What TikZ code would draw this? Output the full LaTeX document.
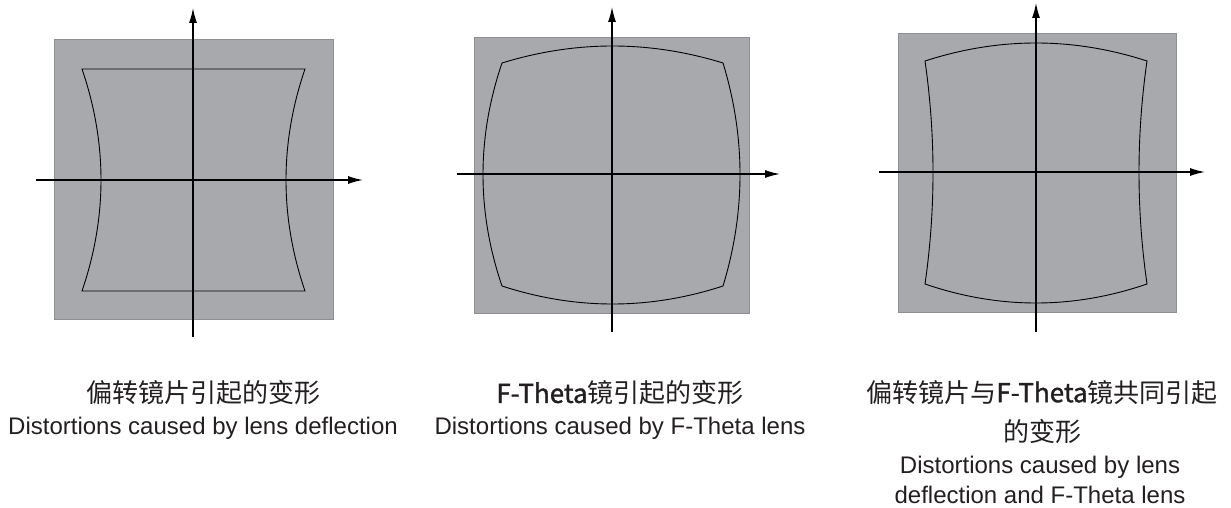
\documentclass[tikz,border=0pt]{standalone}
\usepackage{fontspec}
\setmainfont{Liberation Sans}
\newfontfamily\cjk{Noto Sans CJK SC}
\newfontfamily\cjkmed[FakeBold=1.3]{Noto Sans CJK SC}
\usetikzlibrary{arrows.meta}
\definecolor{panelfill}{HTML}{A8A9AD}
\definecolor{panelline}{HTML}{8E8F92}
\definecolor{txt}{HTML}{231F20}
\tikzset{
  panel/.style={fill=panelfill, draw=panelline, line width=0.9pt},
  axis/.style={draw=black, line width=1.3pt, -{Latex[length=15pt,width=8pt]}},
  shapeline/.style={draw=black, line width=0.9pt, line join=miter},
  cn/.style={inner sep=0pt, text=txt, font=\cjk\fontsize{26}{39}\selectfont, align=center},
  en/.style={inner sep=0pt, text=txt, font=\fontsize{24}{30}\selectfont, align=center},
}
\newcommand{\fth}{{\cjkmed F-Theta}}
\begin{document}
\begin{tikzpicture}[x=1pt,y=-1pt]
\useasboundingbox (0,0) rectangle (1231,508);
% ---------- panel 1 ----------
\node[panel, minimum width=279pt, minimum height=280pt, inner sep=0pt, anchor=north west] (sq1) at (54,39) {};
\draw[shapeline] (82,69) -- (305,69)
  .. controls (279.67,143) and (279.67,217) .. (305,291)
  -- (82,291)
  .. controls (107.33,217) and (107.33,143) .. cycle;
\coordinate (v1a) at (193,337); \coordinate (v1b) at (193,8);
\coordinate (h1a) at (36,180);  \coordinate (h1b) at (363,180);
\draw[axis] (v1a) -- (v1b);
\draw[axis] (h1a) -- (h1b);
\node[cn] (c1) at (203,393) {偏转镜片引起的变形};
\node[en] (e1) at (203,428) {Distortions caused by lens deflection};
% ---------- panel 2 ----------
\node[panel, minimum width=275pt, minimum height=276pt, inner sep=0pt, anchor=north west] (sq2) at (474,37) {};
\draw[shapeline] (502,63)
  .. controls (575.67,40.33) and (649.33,40.33) .. (723,63)
  .. controls (745.67,137.33) and (745.67,211.67) .. (723,286)
  .. controls (649.33,310) and (575.67,310) .. (502,286)
  .. controls (476.67,211.67) and (476.67,137.33) .. cycle;
\coordinate (v2a) at (612,332); \coordinate (v2b) at (612,7);
\coordinate (h2a) at (457,174); \coordinate (h2b) at (780,174);
\draw[axis] (v2a) -- (v2b);
\draw[axis] (h2a) -- (h2b);
\node[cn] (c2) at (620,393) {\fth 镜引起的变形};
\node[en] (e2) at (620,428) {Distortions caused by F-Theta lens};
% ---------- panel 3 ----------
\node[panel, minimum width=278pt, minimum height=279pt, inner sep=0pt, anchor=north west] (sq3) at (898,33) {};
\draw[shapeline] (925,61)
  .. controls (999,37) and (1073,37) .. (1147,61)
  .. controls (1136.33,135.33) and (1136.33,209.67) .. (1147,284)
  .. controls (1073,309.33) and (999,309.33) .. (925,284)
  .. controls (935.67,209.67) and (935.67,135.33) .. cycle;
\coordinate (v3a) at (1036,332); \coordinate (v3b) at (1036,3);
\coordinate (h3a) at (879,172); \coordinate (h3b) at (1205,172);
\draw[axis] (v3a) -- (v3b);
\draw[axis] (h3a) -- (h3b);
\node[cn, anchor=north] (c3) at (1042,380) {偏转镜片与\fth 镜共同引起\\的变形};
\node[en, anchor=north] (e3) at (1040,456) {Distortions caused by lens\\deflection and F-Theta lens};
\end{tikzpicture}
\end{document}
